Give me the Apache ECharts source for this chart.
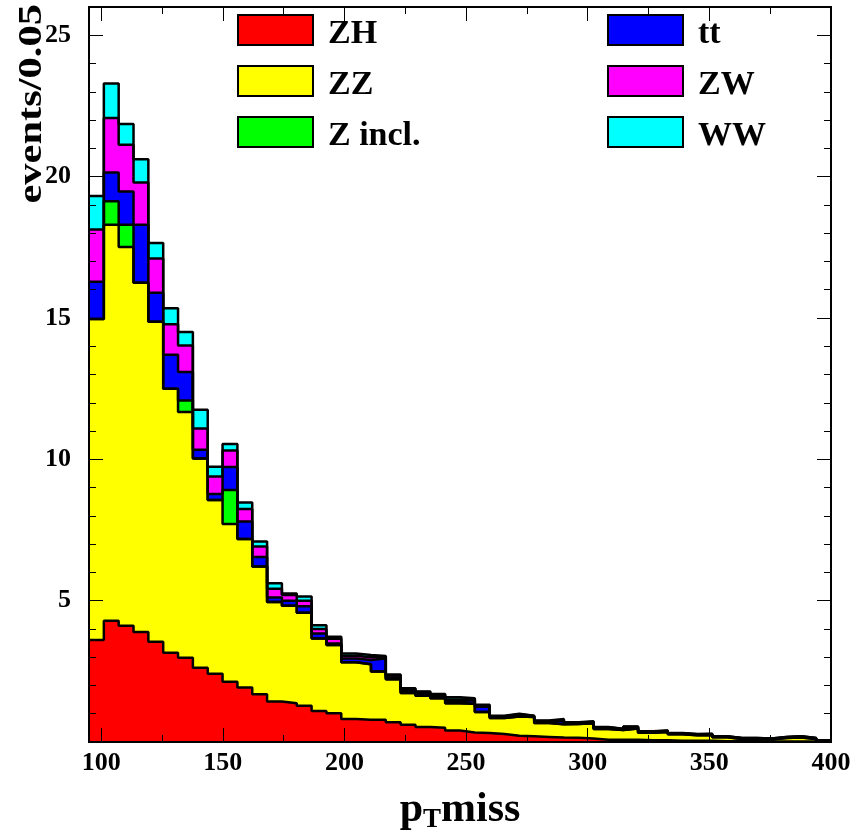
<!DOCTYPE html>
<html>
<head>
<meta charset="utf-8">
<script src="https://cdn.jsdelivr.net/npm/echarts@6/dist/echarts.min.js"></script>
<style>html,body{margin:0;padding:0;background:#fff;}#c{width:864px;height:839px;}</style>
</head>
<body>
<div id="c"></div>
<script>
// Histogram binning: 50 bins from 95 to 400
const xMin = 95, xMax = 400, nBins = 50;
const binWidth = (xMax - xMin) / nBins;

// Stacked components (events per bin), bottom to top
const seriesNames = ['ZH', 'ZZ', 'Z incl.', 'tt', 'ZW', 'WW'];
const seriesColors = ['#ff0000', '#ffff00', '#00ff00', '#0000ff', '#ff00ff', '#00ffff'];

const zh = [3.61,4.29,4.11,3.89,3.55,3.16,2.98,2.63,2.41,2.13,
            1.93,1.69,1.43,1.37,1.28,1.10,1.02,0.81,0.79,0.79,
            0.70,0.61,0.53,0.50,0.41,0.34,0.32,0.28,0.22,0.20,
            0.18,0.16,0.15,0.12,0.08,0.08,0.08,0.06,0.06,0.04,
            0.04,0.04,0.03,0.03,0.03,0.02,0.02,0.02,0.02,0.02];
const zz = [11.35,14.01,13.40,12.36,11.32,9.34,8.69,7.40,6.15,5.58,
            5.25,4.52,3.52,3.45,3.29,2.56,2.41,2.01,1.96,1.70,
            1.52,1.12,1.11,1.05,0.96,1.01,0.74,0.57,0.68,0.68,
            0.49,0.47,0.49,0.54,0.38,0.34,0.40,0.27,0.29,0.23,
            0.20,0.21,0.14,0.08,0.08,0.07,0.12,0.14,0.09,0.00];
const zincl = [0,0.83,0.79,0,0,0,0.41,0,0,1.20,
               0,0,0,0,0,0,0,0,0,0,
               0,0,0,0,0,0,0,0,0,0,
               0,0,0,0,0,0,0,0,0,0,
               0,0,0,0,0,0,0,0,0,0];
const tt = [1.32,1.02,1.17,2.05,1.02,1.20,1.01,0.31,0.21,0.82,
            0.62,0.33,0.16,0.18,0.23,0.18,0.05,0.13,0.15,0.46,
            0.06,0.07,0.08,0.07,0.08,0.13,0.19,0.05,0.06,0.03,
            0.05,0.13,0.03,0.04,0.04,0.03,0.04,0.03,0.04,0.03,
            0.02,0.02,0.02,0.02,0.02,0.02,0.03,0.03,0.02,0.03];
const zw = [1.85,1.92,1.66,1.49,1.21,1.08,0.94,0.75,0.62,0.58,
            0.44,0.38,0.31,0.20,0.20,0.16,0.17,0.10,0.10,0.05,
            0.07,0.07,0.05,0.05,0.05,0.04,0.04,0.01,0.02,0.01,
            0.02,0.02,0.01,0.02,0.02,0.01,0.02,0.01,0.01,0.01,
            0.01,0.01,0.01,0.01,0.01,0.01,0.01,0.01,0.01,0.01];
const ww = [1.18,1.22,0.73,0.82,0.55,0.56,0.47,0.66,0.35,0.23,
            0.23,0.17,0.20,0.05,0.15,0.13,0.07,0.08,0.08,0.04,
            0.04,0.03,0.02,0.03,0.08,0.03,0.03,0.02,0.02,0.01,
            0.02,0.03,0.02,0.01,0.01,0.01,0.01,0.01,0.01,0.01,
            0.01,0.01,0.00,0.00,0.00,0.00,0.00,0.00,0.00,0.00];

// Axis ticks / labels
const xMajorTicks = [100,150,200,250,300,350,400];
const xMinorTicks = [125,175,225,275,325,375];
const yMajorTicks = [5,10,15,20,25];
const yMinorTicks = [1,2,3,4,6,7,8,9,11,12,13,14,16,17,18,19,21,22,23,24];
const yMin = 0, yMax = 26;

const comps = [zh, zz, zincl, tt, zw, ww];
// cumulative sums (stack levels)
const cum = [];
comps.forEach((arr, k) => {
  cum.push(arr.map((v, i) => +(v + (k > 0 ? cum[k-1][i] : 0)).toFixed(4)));
});
const edges = [];
for (let i = 0; i <= nBins; i++) edges.push(+(xMin + i * binWidth).toFixed(4));

const font = 'Liberation Serif';
const series = [];
for (let k = comps.length - 1; k >= 0; k--) {
  const c = cum[k];
  series.push({
    name: seriesNames[k],
    type: 'line',
    step: 'end',
    symbol: 'none',
    xAxisIndex: 0, yAxisIndex: 0,
    data: edges.map((x, i) => [x, c[Math.min(i, nBins - 1)]]),
    color: seriesColors[k],
    lineStyle: { color: '#000', width: 2.5 },
    areaStyle: { color: seriesColors[k], opacity: 1 },
    itemStyle: { color: seriesColors[k] },
    emphasis: { disabled: true },
    silent: true,
    z: 2
  });
}

function xAx(pos, ticks, len, labels) {
  return {
    type: 'value', position: pos, min: xMin, max: xMax, z: 10,
    axisLine: { show: true, onZero: false, lineStyle: { color: '#000', width: 2 } },
    axisTick: { show: true, inside: true, length: len, customValues: ticks, lineStyle: { color: '#000', width: 1 } },
    axisLabel: labels ? { show: true, customValues: xMajorTicks, margin: 8, fontFamily: font, fontWeight: 'bold', fontSize: 26, color: '#000' } : { show: false },
    splitLine: { show: false }
  };
}
function yAx(pos, ticks, len, labels) {
  return {
    type: 'value', position: pos, min: yMin, max: yMax, z: 10,
    axisLine: { show: true, onZero: false, lineStyle: { color: '#000', width: 2 } },
    axisTick: { show: true, inside: true, length: len, customValues: ticks, lineStyle: { color: '#000', width: 1 } },
    axisLabel: labels ? { show: true, customValues: yMajorTicks, margin: 18, fontFamily: font, fontWeight: 'bold', fontSize: 26, color: '#000' } : { show: false },
    splitLine: { show: false }
  };
}

const xAxes = [xAx('bottom', xMajorTicks, 14, true), xAx('bottom', xMinorTicks, 7, false),
               xAx('top', xMajorTicks, 14, false), xAx('top', xMinorTicks, 7, false)];
xAxes[0].name = '{a|p}{b|T}{a|miss}';
xAxes[0].nameLocation = 'middle';
xAxes[0].nameGap = 44;
xAxes[0].nameTextStyle = {
  rich: {
    a: { fontFamily: font, fontWeight: 'bold', fontSize: 42, color: '#000', lineHeight: 48, verticalAlign: 'middle' },
    b: { fontFamily: font, fontWeight: 'bold', fontSize: 27, color: '#000', lineHeight: 27, verticalAlign: 'bottom' }
  }
};
const yAxes = [yAx('left', yMajorTicks, 14, true), yAx('left', yMinorTicks, 7, false),
               yAx('right', yMajorTicks, 14, false), yAx('right', yMinorTicks, 7, false)];

function legendData(idx) {
  return idx.map(k => ({ name: seriesNames[k], itemStyle: { color: seriesColors[k] } }));
}
function legend(left, idx) {
  return {
    orient: 'vertical', left: left, top: 14, padding: 0,
    itemWidth: 75, itemHeight: 30, itemGap: 14,
    icon: 'rect', selectedMode: false,
    itemStyle: { borderColor: '#000', borderWidth: 2 },
    formatter: name => '{a|' + name + '}',
    textStyle: {
      color: '#000',
      rich: { a: { fontFamily: font, fontWeight: 'bold', fontSize: 34, color: '#000', padding: [8, 0, 0, 10] } }
    },
    data: legendData(idx)
  };
}

const chart = echarts.init(document.getElementById('c'), null, { renderer: 'canvas' });
chart.setOption({
  animation: false,
  backgroundColor: '#fff',
  grid: { left: 89, top: 7, width: 742, height: 739, containLabel: false },
  xAxis: xAxes,
  yAxis: yAxes,
  legend: [legend(237, [0, 1, 2]), legend(607, [3, 4, 5])],
  graphic: [{
    type: 'text', x: 32, y: 4, rotation: Math.PI / 2, scaleX: 1.25,
    style: { text: 'events/0.05', fontFamily: font, fontWeight: 'bold', fontSize: 34, fill: '#000', align: 'right', verticalAlign: 'middle' }
  }],
  series: series
});
</script>
</body>
</html>
